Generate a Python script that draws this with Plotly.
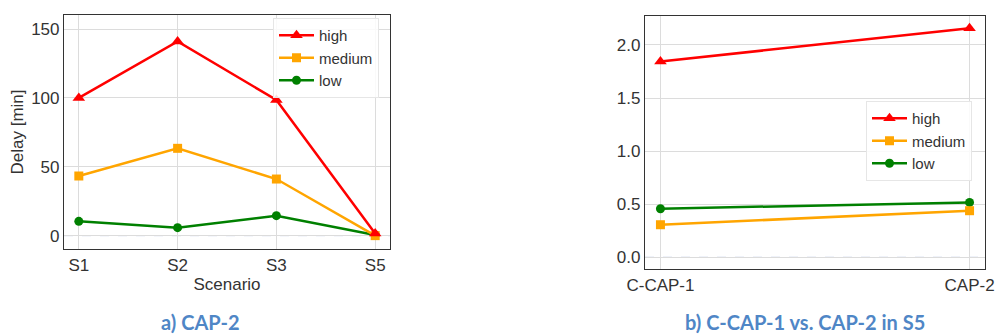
import plotly.graph_objects as go

# Delay per scenario (CAP-2)
scenarios = ["S1", "S2", "S3", "S5"]
high_a = [100.0, 141.0, 98.5, 1.5]
medium_a = [43.3, 63.4, 41.1, 0.0]
low_a = [10.4, 5.8, 14.5, 0.5]

# Delay in S5: C-CAP-1 vs. CAP-2
methods = ["C-CAP-1", "CAP-2"]
high_b = [1.844, 2.158]
medium_b = [0.307, 0.439]
low_b = [0.458, 0.517]

W, H = 995, 335

series = [
    ("low", "green", "circle", 9),
    ("medium", "orange", "square", 9),
    ("high", "red", "triangle-up", 11),
]
data_a = {"high": high_a, "medium": medium_a, "low": low_a}
data_b = {"high": high_b, "medium": medium_b, "low": low_b}

fig = go.Figure()

for name, color, symbol, size in series:
    fig.add_trace(go.Scatter(
        x=scenarios, y=data_a[name], name=name, mode="lines+markers",
        line=dict(color=color, width=2.5),
        marker=dict(symbol=symbol, size=size, color=color),
        xaxis="x", yaxis="y", legend="legend",
    ))
for name, color, symbol, size in series:
    fig.add_trace(go.Scatter(
        x=methods, y=data_b[name], name=name, mode="lines+markers",
        line=dict(color=color, width=2.5),
        marker=dict(symbol=symbol, size=size, color=color),
        xaxis="x2", yaxis="y2", legend="legend2",
    ))


def px_x(a, b):
    return [a / W, b / W]


def px_y(top, bottom):
    return [(H - bottom) / H, (H - top) / H]


tick_font = dict(family="Liberation Sans, Arial, sans-serif", size=17, color="#333333")
axis_common = dict(
    showline=True, linecolor="#333333", linewidth=1.2, mirror=True,
    showgrid=True, gridcolor="#dcdcdc", gridwidth=1,
    zeroline=False, tickfont=tick_font, ticks="", automargin=False,
)

fig.update_layout(
    width=W, height=H,
    margin=dict(l=0, r=0, t=0, b=0),
    paper_bgcolor="white", plot_bgcolor="white",
    font=dict(family="Liberation Sans, Arial, sans-serif", color="#333333"),
    xaxis=dict(domain=px_x(64, 390), anchor="y", type="category",
               range=[-0.15, 3.15],
               title=dict(text="Scenario", font=dict(size=17, color="#333333"), standoff=4),
               **axis_common),
    yaxis=dict(domain=px_y(15, 249), anchor="x", range=[-9.7, 160.2],
               tickvals=[0, 50, 100, 150],
               title=dict(text="Delay [min]", font=dict(size=17, color="#333333"), standoff=3),
               **axis_common),
    xaxis2=dict(domain=px_x(645, 985), anchor="y2", type="category",
                range=[-0.05, 1.05], **axis_common),
    yaxis2=dict(domain=px_y(16, 269), anchor="x2", range=[-0.11, 2.273],
                tickvals=[0.0, 0.5, 1.0, 1.5, 2.0], tickformat=".1f",
                **axis_common),
    legend=dict(x=273 / W, y=(H - 18) / H, xanchor="left", yanchor="top",
                traceorder="reversed", bgcolor="rgba(255,255,255,0.85)",
                bordercolor="#e6e6e6", borderwidth=1,
                font=dict(size=15, color="#333333"), itemwidth=35),
    legend2=dict(x=866 / W, y=(H - 101) / H, xanchor="left", yanchor="top",
                 traceorder="reversed", bgcolor="rgba(255,255,255,0.85)",
                 bordercolor="#e6e6e6", borderwidth=1,
                 font=dict(size=15, color="#333333"), itemwidth=35),
    showlegend=True,
)

# Dashed reference line at zero delay
zero_line = dict(color="#a9b6dc", width=1, dash="dash")
fig.add_shape(type="line", xref="x domain", yref="y", x0=0, x1=1, y0=0, y1=0,
              line=zero_line, layer="below")
fig.add_shape(type="line", xref="x2 domain", yref="y2", x0=0, x1=1, y0=0, y1=0,
              line=zero_line, layer="below")

caption_font = dict(family="Lato, sans-serif", size=20, color="#4f86c6", weight="bold")
fig.add_annotation(text="a) CAP-2", xref="paper", yref="paper",
                   x=200 / W, y=(H - 322) / H, xanchor="center", yanchor="middle",
                   showarrow=False, font=caption_font)
fig.add_annotation(text="b) C-CAP-1 vs. CAP-2 in S5", xref="paper", yref="paper",
                   x=805 / W, y=(H - 322) / H, xanchor="center", yanchor="middle",
                   showarrow=False, font=caption_font)

fig.write_html("out.html")
